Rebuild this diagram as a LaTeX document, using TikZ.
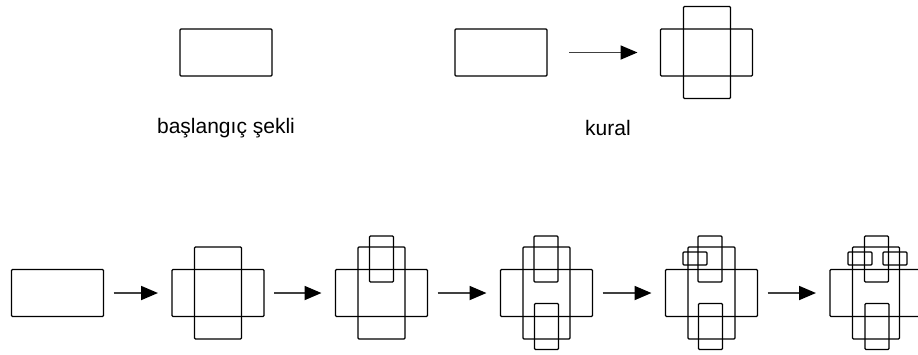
\documentclass[tikz,border=0pt]{standalone}
\usepackage{fontspec}
\setmainfont{Liberation Sans}
\usepackage{tikz}
\usetikzlibrary{arrows.meta}
\tikzset{
    sekil/.style={draw=black, line width=1.3pt, rounded corners=1pt, inner sep=0pt, outer sep=0pt},
    yatay/.style={sekil, minimum width=92pt, minimum height=47pt},
    dikey/.style={sekil, minimum width=47pt, minimum height=92pt},
    kdikey/.style={sekil, minimum width=24pt, minimum height=46pt},
    kyatay/.style={sekil, minimum width=24pt, minimum height=13pt},
    ok/.style={draw=black!75, line width=1.8pt, -{Triangle[length=17pt, width=14pt, color=black]}},
    etiket/.style={font=\fontsize{21}{25}\selectfont, inner sep=0pt}
}

\begin{document}
\begin{tikzpicture}[x=1pt, y=-1pt]
            \useasboundingbox (0,0) rectangle (918,354);
            % Start shape
            \node[yatay] (s0) at (226,52.5) {};
            \node[etiket] (baslik) at (226,128) {başlangıç şekli};
            % Rule: rectangle -> cross
            \node[yatay] (r0) at (501,52.5) {};
            \node[yatay] (r1) at (706.5,52.5) {};
            \node[dikey] (r1d) at (707,52.5) {};
            \draw[ok, shorten <=22pt, shorten >=23pt] (r0) -- (r1);
            \node[etiket] (kural) at (608,128) {kural};
            % Derivation, step 1
            \node[yatay] (a1) at (57.5,293) {};
            % step 2
            \node[yatay] (a2) at (218,293) {};
            \node[dikey] (a2d) at (218,293) {};
            % step 3
            \node[yatay] (a3) at (381.5,293) {};
            \node[dikey] (a3d) at (381.5,293) {};
            \node[kdikey] (a3u) at (381.5,259) {};
            % step 4
            \node[yatay] (a4) at (546.5,293) {};
            \node[dikey] (a4d) at (546.5,293) {};
            \node[kdikey] (a4u) at (546,259) {};
            \node[kdikey] (a4a) at (546.5,326.5) {};
            % step 5
            \node[yatay] (a5) at (711.5,293) {};
            \node[dikey] (a5d) at (711.5,293) {};
            \node[kdikey] (a5u) at (710,259) {};
            \node[kdikey] (a5a) at (710.5,326.5) {};
            \node[kyatay] (a5l) at (695,258.5) {};
            % step 6
            \node[yatay] (a6) at (876,293) {};
            \node[dikey] (a6d) at (876,293) {};
            \node[kdikey] (a6u) at (876.5,259) {};
            \node[kdikey] (a6a) at (877,326.5) {};
            \node[kyatay] (a6l) at (860,258.5) {};
            \node[kyatay] (a6r) at (895,258.5) {};
            % Arrows between steps
            \foreach \i/\j in {a1/a2, a2/a3, a3/a4, a4/a5, a5/a6}
                \draw[ok, shorten <=10pt, shorten >=14pt] (\i) -- (\j);
        \end{tikzpicture}
\end{document}
